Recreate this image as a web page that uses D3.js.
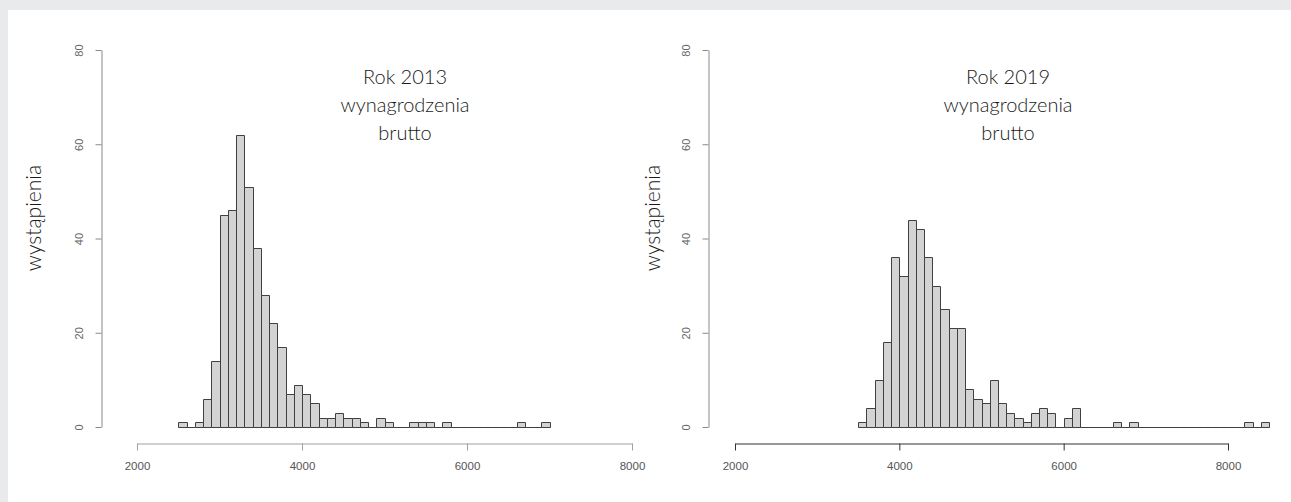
<!DOCTYPE html>
<html>
<head>
<meta charset="utf-8">
<script src="https://cdn.jsdelivr.net/npm/d3@7"></script>
<style>
    body { margin: 0; background: #e9eaec; }
    svg { display: block; }
</style>
</head>
<body>
<div id="chart"></div>
<script>
// histogram bins are 100 PLN wide
const binWidth = 100;

const start2013 = 2500;
const counts2013 = [1, 0, 1, 6, 14, 45, 46, 62, 51, 38, 28, 22, 17, 7, 9, 7, 5, 2, 2, 3, 2, 2, 1, 0,
    2, 1, 0, 0, 1, 1, 1, 0, 1, 0, 0, 0, 0, 0, 0, 0, 0, 1, 0, 0, 1];

const start2019 = 3500;
const counts2019 = [1, 4, 10, 18, 36, 32, 44, 42, 36, 30, 25, 21, 21, 8, 6, 5, 10, 5, 3, 2, 1, 3, 4, 3, 0,
    2, 4, 0, 0, 0, 0, 1, 0, 1, 0, 0, 0, 0, 0, 0, 0, 0, 0, 0, 0, 0, 0, 1, 0, 1];

const xTicks = [2000, 4000, 6000, 8000];
const yTicks = [0, 20, 40, 60, 80];
const titles2013 = ["Rok 2013", "wynagrodzenia", "brutto"];
const titles2019 = ["Rok 2019", "wynagrodzenia", "brutto"];
const yLabel = "wystąpienia";

const width = 1291, height = 502;

const svg = d3.select("#chart").append("svg")
    .attr("width", width)
    .attr("height", height);

// white panel over the grey page
svg.append("rect")
    .attr("x", 8).attr("y", 10)
    .attr("width", width - 8).attr("height", height - 10)
    .attr("fill", "#ffffff");

function drawHist(opts) {
    const x = d3.scaleLinear().domain([2000, 8000]).range(opts.xRange);
    const y = d3.scaleLinear().domain([0, 80]).range([427, 50]);

    const g = svg.append("g");

    const bins = opts.counts.map((c, i) => ({
        x0: opts.start + i * binWidth,
        x1: opts.start + (i + 1) * binWidth,
        count: c
    }));

    // path instead of rect so that empty bins still show as a flat line
    g.append("g")
        .selectAll("path")
        .data(bins)
        .enter().append("path")
        .attr("d", d => {
            const a = Math.round(x(d.x0)) + 0.5, b = Math.round(x(d.x1)) + 0.5;
            const y0 = Math.round(y(0)) + 0.5, y1 = Math.round(y(d.count)) + 0.5;
            return "M" + a + "," + y0 + "V" + y1 + "H" + b + "V" + y0 + "Z";
        })
        .attr("fill", "#d3d3d3")
        .attr("stroke", "#404040")
        .attr("stroke-width", 1);

    // y axis, R style with rotated labels
    const yAxis = g.append("g")
        .attr("transform", `translate(${opts.yAxisX + 0.5},0)`)
        .call(d3.axisLeft(y).tickValues(yTicks).tickSize(6).tickSizeOuter(0).tickPadding(0));
    yAxis.select(".domain").attr("stroke", "#8a8a8a");
    yAxis.selectAll(".tick line").attr("stroke", "#8a8a8a");
    yAxis.selectAll(".tick text")
        .attr("transform", "rotate(-90)")
        .attr("x", 0)
        .attr("y", -22)
        .attr("dy", "0.35em")
        .attr("text-anchor", "middle")
        .attr("fill", "#666")
        .attr("font-family", "Liberation Sans, Arial, sans-serif")
        .attr("font-size", 11);

    // x axis
    const xAxis = g.append("g")
        .attr("transform", "translate(0,443.5)")
        .call(d3.axisBottom(x).tickValues(xTicks).tickFormat(d3.format("d")).tickSize(7).tickSizeOuter(0).tickPadding(11));
    xAxis.select(".domain").attr("stroke", opts.xAxisColor);
    xAxis.selectAll(".tick line").attr("stroke", opts.xAxisColor);
    xAxis.selectAll(".tick text")
        .attr("fill", "#555")
        .attr("font-family", "Liberation Sans, Arial, sans-serif")
        .attr("font-size", 11.5);

    // axis title
    g.append("text")
        .attr("transform", `translate(${opts.labelX},218) rotate(-90)`)
        .attr("text-anchor", "middle")
        .attr("font-family", "Lato, sans-serif")
        .attr("font-weight", 300)
        .attr("font-size", 21)
        .attr("fill", "#1a1a1a")
        .text(yLabel);

    // title, three lines
    g.append("g")
        .selectAll("text")
        .data(opts.titles)
        .enter().append("text")
        .attr("x", opts.titleX)
        .attr("y", (d, i) => 84 + i * 28)
        .attr("text-anchor", "middle")
        .attr("font-family", "Lato, sans-serif")
        .attr("font-weight", 300)
        .attr("font-size", 20)
        .attr("fill", "#1a1a1a")
        .text(d => d);
}

drawHist({
    start: start2013, counts: counts2013, titles: titles2013,
    xRange: [137, 632], yAxisX: 101, labelX: 41, titleX: 405, xAxisColor: "#a0a0a0"
});

drawHist({
    start: start2019, counts: counts2019, titles: titles2019,
    xRange: [735, 1228], yAxisX: 708, labelX: 660, titleX: 1008, xAxisColor: "#333"
});
</script>
</body>
</html>
